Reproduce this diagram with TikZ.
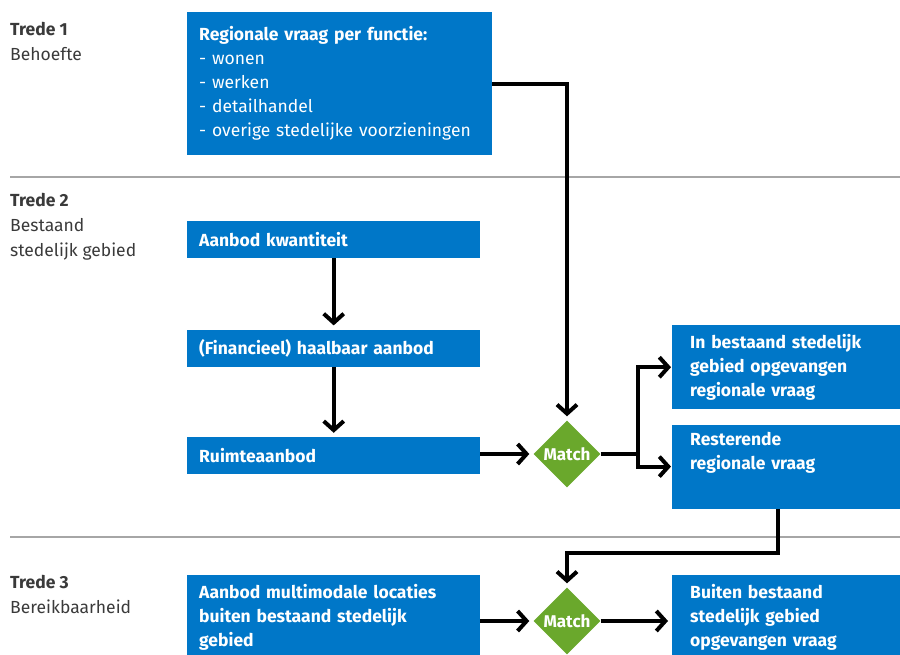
\documentclass[tikz,border=0pt]{standalone}
\usepackage{fontspec}
\setmainfont{Fira Sans}
\usepackage{xcolor}
\usepackage{tikz}
\usetikzlibrary{positioning}
\usetikzlibrary{shapes.geometric,arrows.meta}
\definecolor{rijksblauw}{HTML}{0077C8}
\definecolor{matchgroen}{HTML}{6AA82C}
\definecolor{tredegrijs}{HTML}{3A3A3A}
\tikzset{edge/.style = {-{Straight Barb[length=9pt,width=20pt]}, line width=4pt, shorten >=4pt}}

\begin{document}
\begin{tikzpicture}[x=1pt,y=-1pt,font=\fontsize{17.5}{24}\selectfont,
    box/.style={rectangle,fill=rijksblauw,text=white,font=\fontsize{17.5}{24}\selectfont\bfseries,align=left,anchor=north west,inner xsep=12pt,inner ysep=0pt,text width=269pt},
    rbox/.style={box,inner xsep=18pt,text width=192pt,minimum height=84pt},
    match/.style={diamond,aspect=1,fill=matchgroen,text=white,inner sep=0pt,minimum size=67pt,font=\fontsize{17}{17}\selectfont\bfseries},
    trede/.style={anchor=north west,align=left,text=tredegrijs,inner sep=0pt,font=\fontsize{17.5}{25}\selectfont},
    scheiding/.style={draw=gray!70,line width=1.5pt}]
                \useasboundingbox (0,0) rectangle (900,655);

                % treden
                \node[trede] (t1) at (10,22) {\textbf{Trede 1}\\Behoefte};
                \node[trede] (t2) at (10,193) {\textbf{Trede 2}\\Bestaand\\stedelijk gebied};
                \node[trede] (t3) at (10,575) {\textbf{Trede 3}\\Bereikbaarheid};
                \coordinate (s1) at (10,177);
                \coordinate (s2) at (10,537);
                \draw[scheiding] (s1) -- (s1 -| 900,0);
                \draw[scheiding] (s2) -- (s2 -| 900,0);

                % blokken
                \node[box,minimum height=143pt,text width=281pt] (vraag) at (187,12) {Regionale vraag per functie:\\\mdseries
                    - wonen\\- werken\\- detailhandel\\- overige stedelijke voorzieningen};
                \node[box,minimum height=37pt] (aanbod) at (187,221) {Aanbod kwantiteit};
                \node[box,minimum height=37pt] (haalbaar) [below=71pt of aanbod] {(Financieel) haalbaar aanbod};
                \node[box,minimum height=37pt] (ruimte) [below=70pt of haalbaar] {Ruimteaanbod};
                \node[rbox] (opgevangen) at (672,325) {In bestaand stedelijk\\gebied opgevangen\\regionale vraag};
                \node[rbox] (rest) [below=15pt of opgevangen] {Resterende\\regionale vraag\\ \strut};
                \node[box,minimum height=84pt] (multi) at (187,575) {Aanbod multimodale locaties\\buiten bestaand stedelijk\\gebied};
                \node[rbox] (buiten) at (672,575) {Buiten bestaand\\stedelijk gebied\\opgevangen vraag};
                \node[match] (m1) at (567,454) {Match};
                \node[match] (m2) at (567,621) {Match};
                \coordinate[right=37pt of m1.east] (split);

                \path[edge]
                    (aanbod) edge (haalbaar)
                    (haalbaar) edge (ruimte)
                    (ruimte.east |- m1) edge (m1)
                    (multi.east |- m2) edge (m2)
                    (m2) edge (buiten.west |- m2)
                    ;
                \draw[edge] (vraag.east) -| (m1.north);
                \draw[line width=4pt] (m1.east) -- (split);
                \draw[edge,shorten >=1pt] (split) |- (opgevangen.west);
                \draw[edge,shorten >=1pt] (split) |- (rest.west);
                \draw[edge] ([xshift=-8pt]rest.south) -- ++(0,44) -| (m2.north);
            \end{tikzpicture}
\end{document}
